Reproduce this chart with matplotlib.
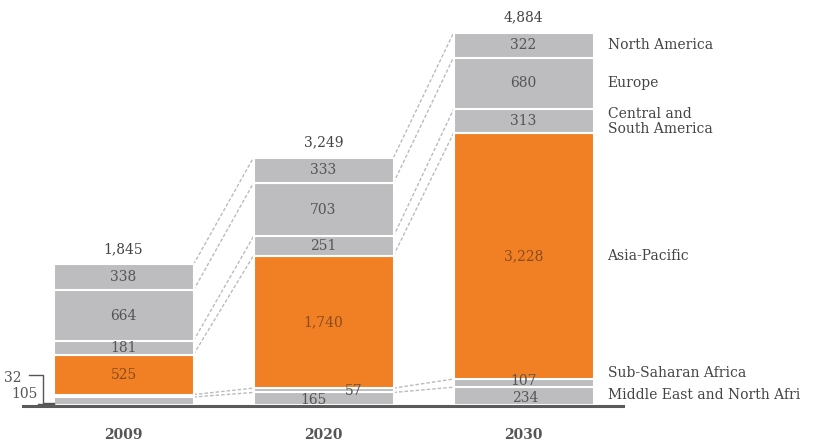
import matplotlib.pyplot as plt

# years and regional values (stack order: bottom -> top)
years = ['2009', '2020', '2030']
regions = ['Middle East and North Africa', 'Sub-Saharan Africa', 'Asia-Pacific',
           'Central and South America', 'Europe', 'North America']
mena = [105, 165, 234]
ssa = [32, 57, 107]
apac = [525, 1740, 3228]
csa = [181, 251, 313]
europe = [664, 703, 680]
namer = [338, 333, 322]
totals = [1845, 3249, 4884]

series = [mena, ssa, apac, csa, europe, namer]
grey = '#bdbdbf'
orange = '#f18024'
colors = [grey, grey, orange, grey, grey, grey]
txt = '#555555'

plt.rcParams['font.family'] = ['DejaVu Serif']

fig = plt.figure(figsize=(8.16, 4.46), dpi=100)
ax = fig.add_axes([0, 0, 1, 1])
ax.set_xlim(-0.6175, 3.4625)
ax.set_ylim(-538, 5317)
ax.axis('off')

x = [0, 1, 2]
w = 0.70

# stacked bars
bottoms = [0, 0, 0]
bounds = []
for vals, c in zip(series, colors):
    ax.bar(x, vals, w, bottom=bottoms, color=c, edgecolor='white', linewidth=1.5, zorder=2)
    bottoms = [b + v for b, v in zip(bottoms, vals)]
    bounds.append(list(bottoms))

# dashed connectors between neighbouring bars
for b in bounds:
    for i in range(2):
        ax.plot([x[i] + w / 2, x[i + 1] - w / 2], [b[i], b[i + 1]],
                color='#bbbbbb', lw=1, ls=(0, (2.5, 1.5)), zorder=1)

# labels inside segments
def seg_label(i, k, s=None, dx=0, dy=0, col=txt):
    base = bounds[k][i] - series[k][i]
    yc = base + series[k][i] / 2 + dy
    ax.text(x[i] + dx, yc, s if s else f'{series[k][i]:,}', ha='center', va='center',
            fontsize=10, color=col, zorder=3)

for i in range(3):
    seg_label(i, 2, col='#8a4b20')
    seg_label(i, 3)
    seg_label(i, 4)
    seg_label(i, 5)

# small segments at the bottom
seg_label(1, 0, dx=-0.05, dy=-20)
seg_label(1, 1, dx=0.15, dy=-10)
seg_label(2, 1, dy=30)
seg_label(2, 0, dx=0.01, dy=-20)

# 2009 small values with bracket leaders
ax.text(-0.6, 355, f'{ssa[0]}', ha='left', va='center', fontsize=10, color=txt)
ax.text(-0.56, 140, f'{mena[0]}', ha='left', va='center', fontsize=10, color=txt)
ax.plot([-0.475, -0.405, -0.405, -0.35], [390, 390, 30, 30], color='#555555', lw=1)
ax.plot([-0.43, -0.35], [15, 15], color='#555555', lw=1)

# totals on top
for i in range(3):
    ax.text(x[i], totals[i] + 200, f'{totals[i]:,}', ha='center', va='center',
            fontsize=10, color='#444444')

# baseline
ax.plot([-0.5025, 2.4975], [-15, -15], color='#5a5a5a', lw=2.2, zorder=4)

# year labels
for i in range(3):
    ax.text(x[i], -395, years[i], ha='center', va='center', fontsize=10,
            fontweight='bold', color='#555555')

# region names to the right of the last bar
lx = 2.42
ax.text(lx, bounds[5][2] - namer[2] / 2, 'North America', va='center', fontsize=10, color='#444444')
ax.text(lx, bounds[4][2] - europe[2] / 2, 'Europe', va='center', fontsize=10, color='#444444')
ax.text(lx, bounds[3][2] - csa[2] / 2, 'Central and\nSouth America', va='center', fontsize=10,
        color='#444444', linespacing=1.1)
ax.text(lx, bounds[2][2] - apac[2] / 2, 'Asia-Pacific', va='center', fontsize=10, color='#444444')
ax.text(lx, 420, 'Sub-Saharan Africa', va='center', fontsize=10, color='#444444')
ax.text(lx, 130, 'Middle East and North Afri', va='center', fontsize=10, color='#444444')

fig.savefig('out.png', dpi=100)
